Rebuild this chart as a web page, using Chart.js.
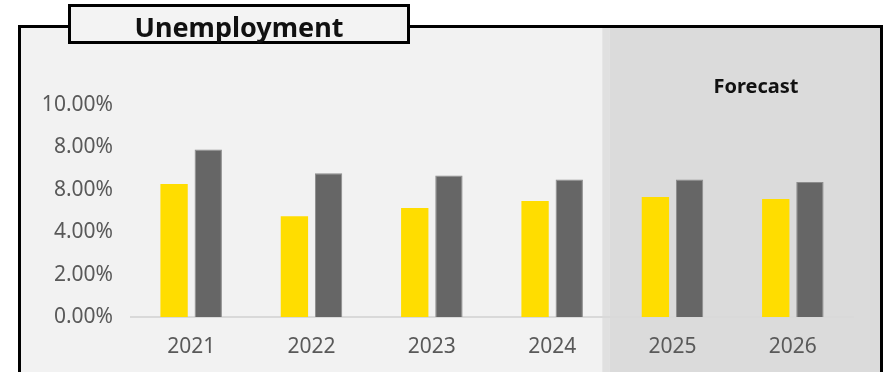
<!DOCTYPE html>
<html>
<head>
<meta charset="utf-8">
<title>Unemployment</title>
<script src="https://cdn.jsdelivr.net/npm/chart.js@4/dist/chart.umd.min.js"></script>
<style>
    html, body { margin: 0; padding: 0; background: #fff; }
    #wrap { width: 883px; height: 372px; position: relative; }
</style>
</head>
<body>
<div id="wrap"><canvas id="unempChart" width="883" height="372"></canvas></div>
<script>
const years = ["2021", "2022", "2023", "2024", "2025", "2026"];
const regionRate = [6.27, 4.75, 5.14, 5.47, 5.66, 5.57];
const countryRate = [7.90, 6.78, 6.68, 6.49, 6.49, 6.37];
const yTickLabels = ["0.00%", "2.00%", "4.00%", "8.00%", "8.00%", "10.00%"];
const forecastFrom = "2025";

const FONT = "'Noto Sans', 'Open Sans', sans-serif";

// frame, grey panel, forecast shading and the title tab
const panelPlugin = {
    id: "panel",
    beforeDraw(chart) {
        const ctx = chart.ctx;
        const x = chart.scales.x;
        const i = years.indexOf(forecastFrom);
        const split = (x.getPixelForValue(i - 1) + x.getPixelForValue(i)) / 2 - 10;

        ctx.save();
        ctx.fillStyle = "#ffffff";
        ctx.fillRect(0, 0, chart.width, chart.height);

        ctx.fillStyle = "#f2f2f2";
        ctx.fillRect(20, 27, 861, chart.height - 27);

        ctx.fillStyle = "#e0e0e0";
        ctx.fillRect(split, 27, 7, chart.height - 27);
        ctx.fillStyle = "#dbdbdb";
        ctx.fillRect(split + 7, 27, 881 - split - 7, chart.height - 27);

        ctx.strokeStyle = "#000";
        ctx.lineWidth = 3;
        ctx.beginPath();
        ctx.moveTo(19.5, chart.height);
        ctx.lineTo(19.5, 26.5);
        ctx.lineTo(881.5, 26.5);
        ctx.lineTo(881.5, chart.height);
        ctx.stroke();

        ctx.fillStyle = "#f3f3f3";
        ctx.fillRect(69.5, 5.5, 339, 37);
        ctx.strokeRect(69.5, 5.5, 339, 37);

        ctx.fillStyle = "#111";
        ctx.textAlign = "center";
        ctx.textBaseline = "alphabetic";
        ctx.font = "bold 27px " + FONT;
        ctx.fillText("Unemployment", 239, 37);

        ctx.font = "bold 20px " + FONT;
        ctx.fillText("Forecast", 756, 93);
        ctx.restore();
    }
};

new Chart(document.getElementById("unempChart"), {
    type: "bar",
    data: {
        labels: years,
        datasets: [
            {
                label: "Region",
                data: regionRate,
                backgroundColor: "#ffdd00",
                borderWidth: 0
            },
            {
                label: "Country",
                data: countryRate,
                backgroundColor: "#666666",
                borderColor: "#8c8c8c",
                borderWidth: 1
            }
        ]
    },
    options: {
        responsive: false,
        animation: false,
        devicePixelRatio: 1,
        categoryPercentage: 0.568,
        barPercentage: 0.8,
        layout: { padding: { top: 105, right: 30, left: 0, bottom: 0 } },
        plugins: {
            legend: { display: false },
            tooltip: { enabled: false }
        },
        scales: {
            x: {
                grid: { display: false },
                border: { display: true, color: "#d9d9d9", width: 2 },
                ticks: {
                    color: "#595959",
                    font: { family: FONT, size: 21 },
                    padding: 9
                },
                afterFit(scale) { scale.height = 55; }
            },
            y: {
                min: 0,
                max: 10,
                grid: { display: false },
                border: { display: false },
                ticks: {
                    stepSize: 2,
                    color: "#595959",
                    font: { family: FONT, size: 21 },
                    padding: 10,
                    callback: (v, i) => yTickLabels[i]
                },
                afterFit(scale) { scale.width = 131; }
            }
        }
    },
    plugins: [panelPlugin]
});
</script>
</body>
</html>
